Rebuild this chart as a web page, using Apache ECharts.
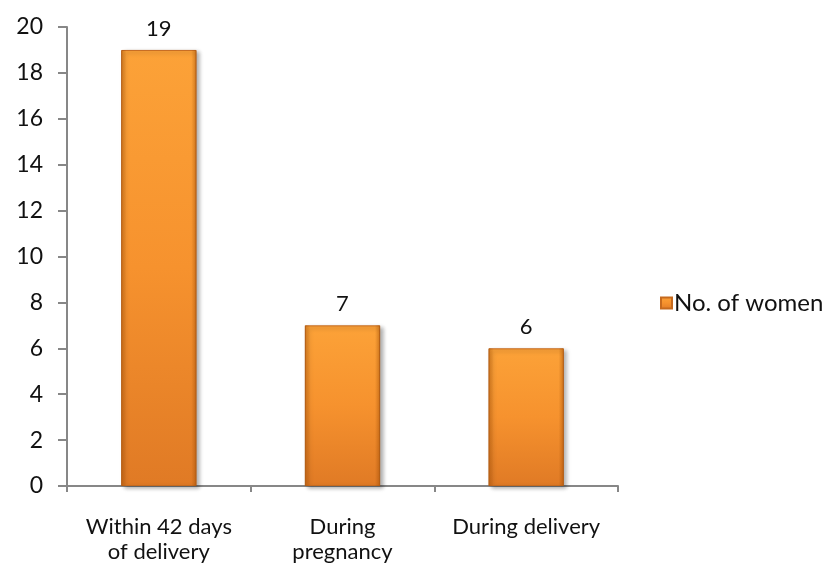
<!DOCTYPE html>
<html>
<head>
<meta charset="utf-8">
<script src="https://cdn.jsdelivr.net/npm/echarts@6/dist/echarts.min.js"></script>
<style>
    html, body { margin: 0; padding: 0; background: #fff; }
    #chart { width: 835px; height: 575px; }
</style>
</head>
<body>
<div id="chart"></div>
<script>
// data
const categories = ['Within 42 days\nof delivery', 'During\npregnancy', 'During delivery']
const women = [19, 7, 6]
const seriesName = 'No. of women'

const chart = echarts.init(document.getElementById('chart'))

// main fill, light on top, darker at the foot
const barFill = new echarts.graphic.LinearGradient(0, 0, 0, 1, [
    { offset: 0, color: '#fca238' },
    { offset: 0.5, color: '#f6922e' },
    { offset: 1, color: '#e07a25' }
])
// darker side edges drawn on top of the same bars
const edgeFill = new echarts.graphic.LinearGradient(0, 0, 1, 0, [
    { offset: 0, color: 'rgba(150,70,0,0.45)' },
    { offset: 0.07, color: 'rgba(150,70,0,0)' },
    { offset: 0.93, color: 'rgba(150,70,0,0)' },
    { offset: 1, color: 'rgba(150,70,0,0.45)' }
])

const option = {
    animation: false,
    textStyle: { fontFamily: 'Lato, sans-serif' },
    grid: { left: 67, right: 217, top: 27, bottom: 89 },
    legend: {
        data: [seriesName],
        left: 655,
        top: 286,
        icon: 'rect',
        itemWidth: 11,
        itemHeight: 11,
        textStyle: { fontSize: 24, color: '#111', padding: [0, 0, 0, -3] }
    },
    xAxis: {
        type: 'category',
        data: categories,
        axisLine: { lineStyle: { color: '#878787', width: 2 } },
        axisTick: { show: true, length: 6, lineStyle: { color: '#878787', width: 2 } },
        axisLabel: { interval: 0, fontSize: 22, color: '#111', margin: 28, lineHeight: 25 }
    },
    yAxis: {
        type: 'value',
        min: 0,
        max: 20,
        interval: 2,
        splitLine: { show: false },
        axisLine: { show: true, lineStyle: { color: '#878787', width: 2 } },
        axisTick: { show: true, length: 9, lineStyle: { color: '#878787', width: 2 } },
        axisLabel: { fontSize: 23, color: '#111', margin: 24 }
    },
    series: [
        {
            name: seriesName,
            type: 'bar',
            data: women,
            barWidth: '41%',
            itemStyle: {
                color: barFill,
                borderColor: '#c66a1e',
                borderWidth: 1,
                shadowColor: 'rgba(0,0,0,0.3)',
                shadowBlur: 4,
                shadowOffsetX: 3,
                shadowOffsetY: 2
            },
            label: {
                show: true,
                position: 'top',
                distance: 10,
                fontSize: 22,
                color: '#111'
            }
        },
        {
            name: 'edge',
            type: 'bar',
            data: women,
            barWidth: '41%',
            barGap: '-100%',
            silent: true,
            itemStyle: { color: edgeFill }
        }
    ]
}

chart.setOption(option)
</script>
</body>
</html>
